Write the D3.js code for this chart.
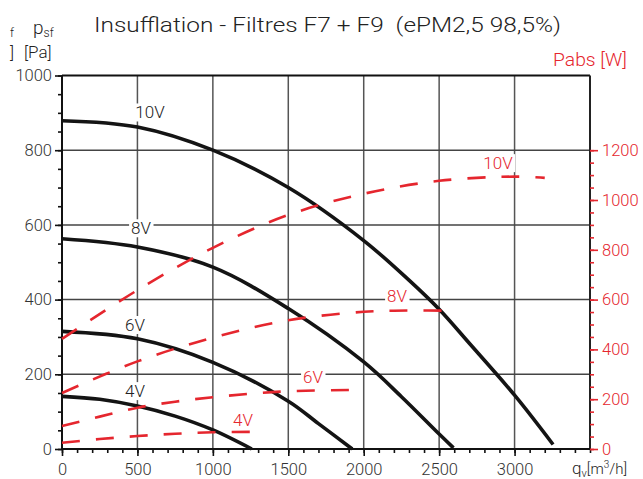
<!DOCTYPE html>
<html><head><meta charset="utf-8">
<script src="https://cdn.jsdelivr.net/npm/d3@7"></script>
<style>body{margin:0;background:#fff}svg{display:block}text{font-family:Roboto,"DejaVu Sans",sans-serif;font-weight:300;white-space:pre}</style>
</head><body><svg id="c" width="643" height="479"></svg>
<script>
// ---- data ----
const voltages = ["10V", "8V", "6V", "4V"];
// pressure curves (Pa) vs flow (m3/h)
const flow10V = [0, 500, 1000, 1500, 2000, 2300, 2500, 2700, 3000, 3255];
const pres10V = [879, 862, 800, 700, 558, 452, 374, 283, 144, 12];
const flow8V = [0, 500, 1000, 1500, 2000, 2250, 2500, 2595];
const pres8V = [563, 541, 487, 376, 233, 140, 40, 3];
const flow6V = [0, 500, 1000, 1500, 1700, 1924];
const pres6V = [315, 295, 232, 128, 68, 0];
const flow4V = [0, 250, 500, 750, 1000, 1258];
const pres4V = [141, 133, 115, 88, 51, 0];
// absorbed power curves (W) vs flow
const pflow10V = [0, 500, 1000, 1500, 2000, 2500, 3000, 3200];
const power10V = [442, 638, 808, 940, 1025, 1077, 1094, 1089];
const pflow8V = [0, 500, 1000, 1500, 2000, 2300, 2605];
const power8V = [225, 352, 447, 517, 551, 556, 555];
const pflow6V = [0, 250, 500, 750, 1000, 1250, 1500, 1910];
const power6V = [92, 130, 166, 190, 208, 222, 232, 237];
const pflow4V = [0, 250, 500, 750, 1000, 1258];
const power4V = [25, 40, 52, 61, 67, 69];
// curve label anchors (data units)
const pLabelFlow = [583, 524, 484, 484];
const pLabelPres = [901, 591, 332, 155];
const wLabelFlow = [2890, 2221, 1664, 1200];
const wLabelPower = [1148, 616, 288, 116];
// ticks
const xTicks = [0, 500, 1000, 1500, 2000, 2500, 3000];
const yLeftTicks = [0, 200, 400, 600, 800, 1000];
const yRightTicks = [0, 200, 400, 600, 800, 1000, 1200];

const title = "Insufflation - Filtres F7 + F9  (ePM2,5 98,5%)";
const RED = "#e5262e", INK = "#222";

// ---- scales ----
const svg = d3.select("#c");
svg.append("rect").attr("width", 643).attr("height", 479).attr("fill", "#fff");
const x = d3.scaleLinear().domain([0, 3500]).range([62, 590]);
const yL = d3.scaleLinear().domain([0, 1000]).range([449, 75.5]);
const yR = d3.scaleLinear().domain([0, 1500]).range([449, 75.5]);

// ---- grid ----
const g = svg.append("g");
g.selectAll(".vg").data(xTicks.filter(d => d > 0)).join("line")
  .attr("x1", d => x(d)).attr("x2", d => x(d)).attr("y1", yL(0)).attr("y2", yL(1000))
  .attr("stroke", "#555").attr("stroke-width", 1.5);
g.selectAll(".hg").data(yLeftTicks.filter(d => d > 0 && d < 1000)).join("line")
  .attr("x1", x(0)).attr("x2", x(3500)).attr("y1", d => yL(d)).attr("y2", d => yL(d))
  .attr("stroke", "#444").attr("stroke-width", 1.5);
g.append("line").attr("x1", x(0)).attr("x2", x(3500)).attr("y1", yL(1000)).attr("y2", yL(1000)).attr("stroke", "#111").attr("stroke-width", 1.8);
g.append("line").attr("x1", x(3500)).attr("x2", x(3500)).attr("y1", yL(0)).attr("y2", yL(1000)).attr("stroke", "#222").attr("stroke-width", 2);

// ---- axes ----
function styleAxis(sel, color, fs) {
  sel.select(".domain").remove();
  sel.selectAll("line").attr("stroke", color).attr("stroke-width", 1.6);
  sel.selectAll("text").attr("fill", color).attr("font-size", fs)
    .attr("font-family", "Roboto,'DejaVu Sans',sans-serif").attr("font-weight", 300);
}
svg.append("g").attr("transform", `translate(${x(0)},0)`)
  .call(d3.axisLeft(yL).tickValues(d3.range(0, 1001, 50)).tickSize(4).tickFormat(""))
  .call(s => styleAxis(s, "#111", 16));
svg.append("g").attr("transform", `translate(${x(0)},0)`)
  .call(d3.axisLeft(yL).tickValues(yLeftTicks).tickSize(7).tickPadding(3).tickFormat(d3.format("d")))
  .call(s => styleAxis(s, "#111", 16.5)).call(s => s.selectAll("text").attr("fill", "#333"));
svg.append("g").attr("transform", `translate(0,${yL(0)})`)
  .call(d3.axisBottom(x).tickValues(d3.range(0, 3501, 100)).tickSize(4).tickFormat(""))
  .call(s => styleAxis(s, "#111", 16));
svg.append("g").attr("transform", `translate(0,${yL(0)})`)
  .call(d3.axisBottom(x).tickValues(xTicks).tickSize(7).tickPadding(7).tickFormat(d3.format("d")))
  .call(s => styleAxis(s, "#111", 16.5)).call(s => s.selectAll("text").attr("fill", "#333"));
svg.append("g").attr("transform", `translate(${x(3500)},0)`)
  .call(d3.axisRight(yR).tickValues(d3.range(0, 1201, 50)).tickSize(4).tickFormat(""))
  .call(s => styleAxis(s, RED, 16));
svg.append("g").attr("transform", `translate(${x(3500)},0)`)
  .call(d3.axisRight(yR).tickValues(yRightTicks).tickSize(8).tickPadding(4).tickFormat(d3.format("d")))
  .call(s => styleAxis(s, RED, 16.5));
svg.append("line").attr("x1", x(0)).attr("x2", x(0)).attr("y1", yL(0)).attr("y2", yL(1000)).attr("stroke", "#111").attr("stroke-width", 2);
svg.append("line").attr("x1", x(0)).attr("x2", x(3500)).attr("y1", yL(0)).attr("y2", yL(0)).attr("stroke", "#111").attr("stroke-width", 2);

// ---- curves ----
const presSeries = [[flow10V, pres10V], [flow8V, pres8V], [flow6V, pres6V], [flow4V, pres4V]];
const powSeries = [[pflow10V, power10V], [pflow8V, power8V], [pflow6V, power6V], [pflow4V, power4V]];
const lineL = d3.line().x(d => x(d[0])).y(d => yL(d[1])).curve(d3.curveCatmullRom.alpha(0.5));
const lineR = d3.line().x(d => x(d[0])).y(d => yR(d[1])).curve(d3.curveCatmullRom.alpha(0.5));

svg.append("g").selectAll("path").data(presSeries).join("path")
  .attr("d", s => lineL(s[0].map((f, i) => [f, s[1][i]])))
  .attr("fill", "none").attr("stroke", "#141414").attr("stroke-width", 3.6);
svg.append("g").selectAll("path").data(powSeries).join("path")
  .attr("d", s => lineR(s[0].map((f, i) => [f, s[1][i]])))
  .attr("fill", "none").attr("stroke", RED).attr("stroke-width", 2.6).attr("stroke-dasharray", "18,16");

// ---- curve labels ----
function label(tx, ty, txt, color) {
  const t = svg.append("text").attr("x", tx).attr("y", ty).attr("text-anchor", "middle")
    .attr("dominant-baseline", "central").attr("font-size", 17).attr("fill", color).text(txt);
  const b = t.node().getBBox();
  svg.insert("rect", () => t.node()).attr("x", b.x - 2).attr("y", b.y + 1).attr("width", b.width + 4).attr("height", b.height - 2).attr("fill", "#fff");
}
voltages.forEach((v, i) => label(x(pLabelFlow[i]), yL(pLabelPres[i]), v, "#222"));
voltages.forEach((v, i) => label(x(wLabelFlow[i]), yR(wLabelPower[i]), v, RED));

// ---- titles ----
svg.append("text").attr("x", 94).attr("y", 32).attr("font-size", 21).attr("fill", INK)
  .attr("textLength", 467).attr("lengthAdjust", "spacingAndGlyphs").text(title);
svg.append("text").attr("x", 553).attr("y", 66).attr("font-size", 19).attr("fill", RED)
  .attr("textLength", 74).attr("lengthAdjust", "spacingAndGlyphs").text("Pabs [W]");
const pl = svg.append("text").attr("x", 33).attr("y", 34).attr("font-size", 19).attr("fill", INK);
pl.append("tspan").text("p");
pl.append("tspan").attr("font-size", 12).attr("dy", 3).text("sf");
svg.append("text").attr("x", 24).attr("y", 58).attr("font-size", 17).attr("fill", INK).text("[Pa]");
svg.append("text").attr("x", 10).attr("y", 37).attr("font-size", 12).attr("fill", INK).text("f");
svg.append("text").attr("x", 10).attr("y", 58).attr("font-size", 17).attr("fill", INK).text("]");
const ql = svg.append("text").attr("x", 572).attr("y", 474).attr("font-size", 17).attr("fill", INK);
ql.append("tspan").text("q");
ql.append("tspan").attr("font-size", 11).attr("dy", 3).text("v");
ql.append("tspan").attr("font-size", 15).attr("dy", -3).text("[m");
ql.append("tspan").attr("font-size", 10).attr("dy", -6).text("3");
ql.append("tspan").attr("font-size", 15).attr("dy", 6).text("/h]");
</script></body></html>
